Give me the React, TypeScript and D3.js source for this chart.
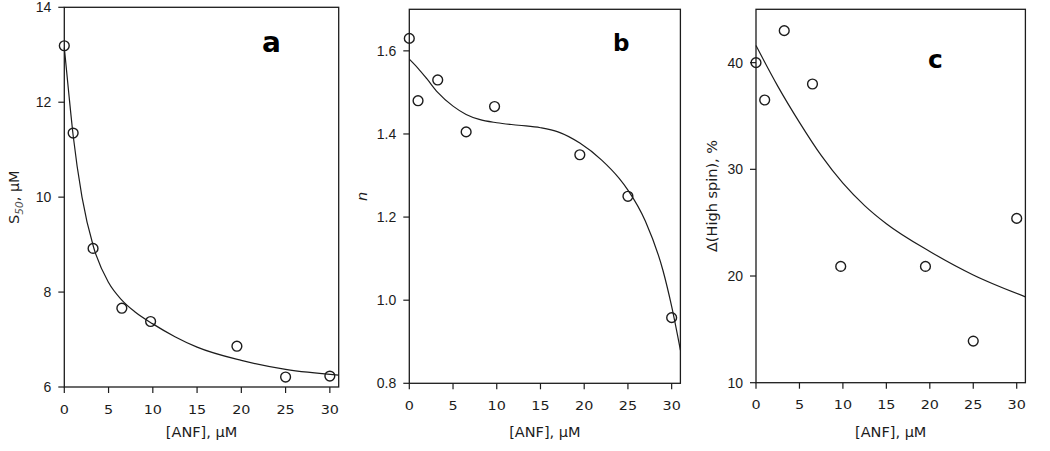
import React from 'react';
import * as d3 from 'd3';

// ---- data ----
const ANF = [0, 1, 3.25, 6.5, 9.75, 19.5, 25, 30];
const S50 = [13.19, 11.35, 8.92, 7.66, 7.38, 6.86, 6.21, 6.23];
const HILL_N = [1.63, 1.48, 1.53, 1.405, 1.466, 1.35, 1.25, 0.958];
const HIGH_SPIN = [40, 36.5, 43, 38, 20.9, 20.9, 13.9, 25.4];

const FIT_A_X = [0, 0.5, 1, 2, 3.3, 5, 6.5, 8, 10, 12.5, 15, 20, 25, 31];
const FIT_A_Y = [13.15, 12.2, 11.3, 10.0, 8.95, 8.2, 7.83, 7.58, 7.33, 7.06, 6.84, 6.56, 6.37, 6.25];

const FIT_B_X = [0, 1, 2, 3.25, 5, 6.5, 8, 10, 12.5, 15, 17, 19.5, 22, 24, 25, 27, 29, 30, 31];
const FIT_B_Y = [1.58, 1.558, 1.533, 1.5, 1.467, 1.447, 1.435, 1.427, 1.421, 1.415, 1.405, 1.378, 1.337, 1.293, 1.265, 1.19, 1.072, 0.985, 0.88];

const FIT_C_X = [0, 2.5, 5, 7.5, 10, 12.5, 15, 20, 25, 31];
const FIT_C_Y = [41.6, 37.8, 34.4, 31.3, 28.7, 26.6, 24.9, 22.3, 20.1, 18.05];

const X_TICKS = [0, 5, 10, 15, 20, 25, 30];
const A_Y_TICKS = [6, 8, 10, 12, 14];
const B_Y_TICKS = [0.8, 1.0, 1.2, 1.4, 1.6];
const C_Y_TICKS = [10, 20, 30, 40];
const X_TITLE = '[ANF], μM';

const INK = '#1c1c1c';
const TITLE_FONT = '"DejaVu Sans", Verdana, sans-serif';
const YTICK_FONT = '"Liberation Sans", Arial, sans-serif';

type PanelProps = {
  left: number; right: number; top: number; bottom: number;
  yDomain: [number, number]; yTicks: number[]; yFmt: (v: number) => string;
  xs: number[]; ys: number[]; fitX: number[]; fitY: number[];
  yTitle: React.ReactNode; yTitleX: number;
  letter: string; letterX: number; letterY: number; letterSize: number;
};

function Panel(p: PanelProps) {
  const x = d3.scaleLinear().domain([0, 31]).range([p.left, p.right]);
  const y = d3.scaleLinear().domain(p.yDomain).range([p.bottom, p.top]);
  const line = d3.line<number>()
    .x((_, i) => x(p.fitX[i]))
    .y((d) => y(d))
    .curve(d3.curveMonotoneX);
  const cy = (p.top + p.bottom) / 2;
  return (
    <g>
      <rect x={p.left} y={p.top} width={p.right - p.left} height={p.bottom - p.top}
        fill="none" stroke={INK} strokeWidth={1.3} />
      {X_TICKS.map((t) => (
        <g key={'x' + t}>
          <line x1={x(t)} x2={x(t)} y1={p.bottom} y2={p.bottom + 6} stroke={INK} strokeWidth={1.2} />
          <text transform={`translate(${x(t)},${p.bottom + 26.5}) scale(1.15,1)`} textAnchor="middle"
            fontFamily={TITLE_FONT} fontSize={12.5} fill={INK}>{t}</text>
        </g>
      ))}
      {p.yTicks.map((t) => (
        <g key={'y' + t}>
          <line x1={p.left - 6} x2={p.left} y1={y(t)} y2={y(t)} stroke={INK} strokeWidth={1.2} />
          <text x={p.left - 13} y={y(t)} dy="0.36em" textAnchor="end" fontFamily={YTICK_FONT}
            fontSize={14} fill={INK}>{p.yFmt(t)}</text>
        </g>
      ))}
      <path d={line(p.fitY) || ''} fill="none" stroke={INK} strokeWidth={1.2} />
      {p.xs.map((xv, i) => (
        <circle key={'c' + i} cx={x(xv)} cy={y(p.ys[i])} r={4.9} fill="none" stroke={INK} strokeWidth={1.4} />
      ))}
      <text x={(p.left + p.right) / 2} y={437} textAnchor="middle" fontFamily={TITLE_FONT}
        fontSize={14.5} fill={INK}>{X_TITLE}</text>
      <text transform={`translate(${p.yTitleX},${cy}) rotate(-90)`} textAnchor="middle"
        fontFamily={TITLE_FONT} fontSize={14.5} fill={INK}>{p.yTitle}</text>
      <text x={p.letterX} y={p.letterY} fontFamily={TITLE_FONT} fontWeight="bold"
        fontSize={p.letterSize} fill="#000">{p.letter}</text>
    </g>
  );
}

export default function App() {
  const f0 = d3.format('d');
  const f1 = d3.format('.1f');
  return (
    <svg width={1050} height={451} style={{ position: 'absolute', left: 0, top: 0, background: '#fff' }}>
      <rect width={1050} height={451} fill="#fff" />
      <Panel left={64.3} right={338.7} top={7.3} bottom={387} yDomain={[6, 14]}
        yTicks={A_Y_TICKS} yFmt={f0} xs={ANF} ys={S50} fitX={FIT_A_X} fitY={FIT_A_Y}
        yTitle={<>S<tspan dy={4} fontSize={10.5} fontStyle="italic" fill="#555">50</tspan><tspan dy={-4}>, μM</tspan></>}
        yTitleX={19} letter="a" letterX={262} letterY={51.5} letterSize={28} />
      <Panel left={409.3} right={680.4} top={9.3} bottom={383.3} yDomain={[0.8, 1.7]}
        yTicks={B_Y_TICKS} yFmt={f1} xs={ANF} ys={HILL_N} fitX={FIT_B_X} fitY={FIT_B_Y}
        yTitle={<tspan fontStyle="italic">n</tspan>}
        yTitleX={366.5} letter="b" letterX={613} letterY={50.5} letterSize={23} />
      <Panel left={756} right={1025.4} top={9.3} bottom={382.7} yDomain={[10, 45]}
        yTicks={C_Y_TICKS} yFmt={f0} xs={ANF} ys={HIGH_SPIN} fitX={FIT_C_X} fitY={FIT_C_Y}
        yTitle={'Δ(High spin), %'}
        yTitleX={717} letter="c" letterX={928} letterY={68} letterSize={25} />
    </svg>
  );
}
